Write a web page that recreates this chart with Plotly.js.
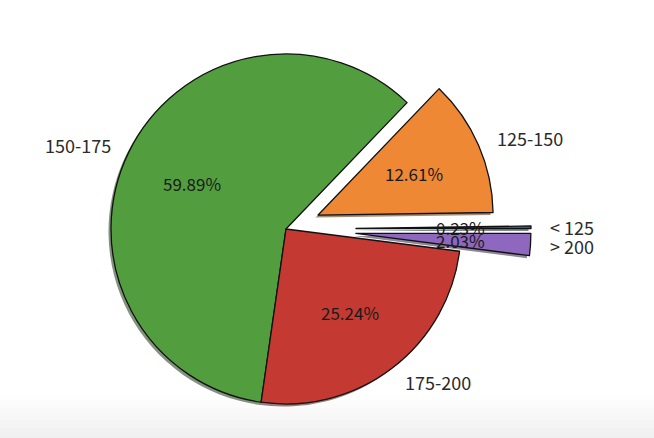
<!DOCTYPE html>
<html><head><meta charset="utf-8">
<script src="https://cdn.plot.ly/plotly-3.0.1.min.js"></script>
<style>html,body{margin:0;padding:0;background:#fff}#chart{width:654px;height:438px}</style>
</head><body><div id="chart"></div>
<script>
// ---- data ----
const labels = ['< 125', '125-150', '150-175', '175-200', '> 200'];
const values = [0.23, 12.61, 59.89, 25.24, 2.03];
// ---- style ----
const colors = ['#3a75b0', '#ee8835', '#529e3f', '#c43a32', '#8e67be'];
const explode = [0.4, 0.2, 0, 0, 0.4];

const W = 654, H = 438;
const R = 175, CX = 286, CY = 229;
const total = values.reduce((a, b) => a + b, 0);
const rotation = 90 - 360 * values[0] / total;
const FONT = '"Noto Sans CJK SC", "DejaVu Sans", sans-serif';

function hexToRgb(h) {
  const n = parseInt(h.slice(1), 16);
  return [(n >> 16) & 255, (n >> 8) & 255, n & 255];
}
function shadowColor(h) {
  const c = hexToRgb(h).map(v => Math.round(v * 0.35));
  return 'rgba(' + c.join(',') + ',0.55)';
}
function domainFor(cx, cy) {
  return {
    x: [(cx - R) / W, (cx + R) / W],
    y: [1 - (cy + R) / H, 1 - (cy - R) / H]
  };
}

// slice geometry (matplotlib convention: start at 0 deg, counterclockwise)
let cum = 0;
const mids = values.map(v => { const m = (cum + v / 2) / total * 2 * Math.PI; cum += v; return m; });
const centers = mids.map((m, i) => [CX + explode[i] * R * Math.cos(m), CY - explode[i] * R * Math.sin(m)]);

const shadowTraces = [], sliceTraces = [];
values.forEach((_, i) => {
  const base = {
    type: 'pie', values: values, labels: labels, sort: false,
    direction: 'counterclockwise', rotation: rotation,
    textinfo: 'none', hoverinfo: 'label+percent', showlegend: false
  };
  const sc = values.map((__, j) => j === i ? shadowColor(colors[i]) : 'rgba(0,0,0,0)');
  shadowTraces.push(Object.assign({}, base, {
    marker: { colors: sc, line: { width: 0, color: 'rgba(0,0,0,0)' } },
    domain: domainFor(centers[i][0] - 2.5, centers[i][1] + 2.5),
    hoverinfo: 'skip'
  }));
  const fc = values.map((__, j) => j === i ? colors[i] : 'rgba(0,0,0,0)');
  const lc = values.map((__, j) => j === i ? '#111111' : 'rgba(0,0,0,0)');
  sliceTraces.push(Object.assign({}, base, {
    marker: { colors: fc, line: { width: 1.3, color: lc } },
    domain: domainFor(centers[i][0], centers[i][1])
  }));
});

const annotations = [];
values.forEach((v, i) => {
  const m = mids[i], c = centers[i];
  const lx = c[0] + 1.1 * R * Math.cos(m), ly = c[1] - 1.1 * R * Math.sin(m);
  annotations.push({
    x: lx / W, y: 1 - ly / H, xref: 'paper', yref: 'paper', showarrow: false,
    text: labels[i], xanchor: Math.cos(m) >= 0 ? 'left' : 'right', yanchor: 'middle',
    font: { family: FONT, size: 18, color: '#2b2b2b' }
  });
  const px = c[0] + 0.6 * R * Math.cos(m), py = c[1] - 0.6 * R * Math.sin(m);
  annotations.push({
    x: px / W, y: 1 - py / H, xref: 'paper', yref: 'paper', showarrow: false,
    text: (v / total * 100).toFixed(2) + '%', xanchor: 'center', yanchor: 'middle',
    font: { family: FONT, size: 17, color: '#1a1a1a' }
  });
});

// faint grey gradient band at the bottom of the picture
const bandTop = 396, bandStep = 4;
const shapes = [];
for (let k = 0; k < 11; k++) {
  const g = Math.round(255 - (k + 1) * 1.4);
  const hex = g.toString(16).padStart(2, '0');
  const y0 = bandTop + k * bandStep, y1 = (k === 10) ? H : y0 + bandStep;
  shapes.push({
    type: 'rect', xref: 'paper', yref: 'paper', layer: 'below',
    x0: 0, x1: 1, y0: 1 - y1 / H, y1: 1 - y0 / H,
    fillcolor: '#' + hex + hex + hex, line: { width: 0 }
  });
}

Plotly.newPlot('chart', shadowTraces.concat(sliceTraces), {
  width: W, height: H, margin: { l: 0, r: 0, t: 0, b: 0 },
  paper_bgcolor: '#ffffff', showlegend: false,
  annotations: annotations, shapes: shapes,
  font: { family: FONT }
}, { displayModeBar: false, staticPlot: true });
</script></body></html>
